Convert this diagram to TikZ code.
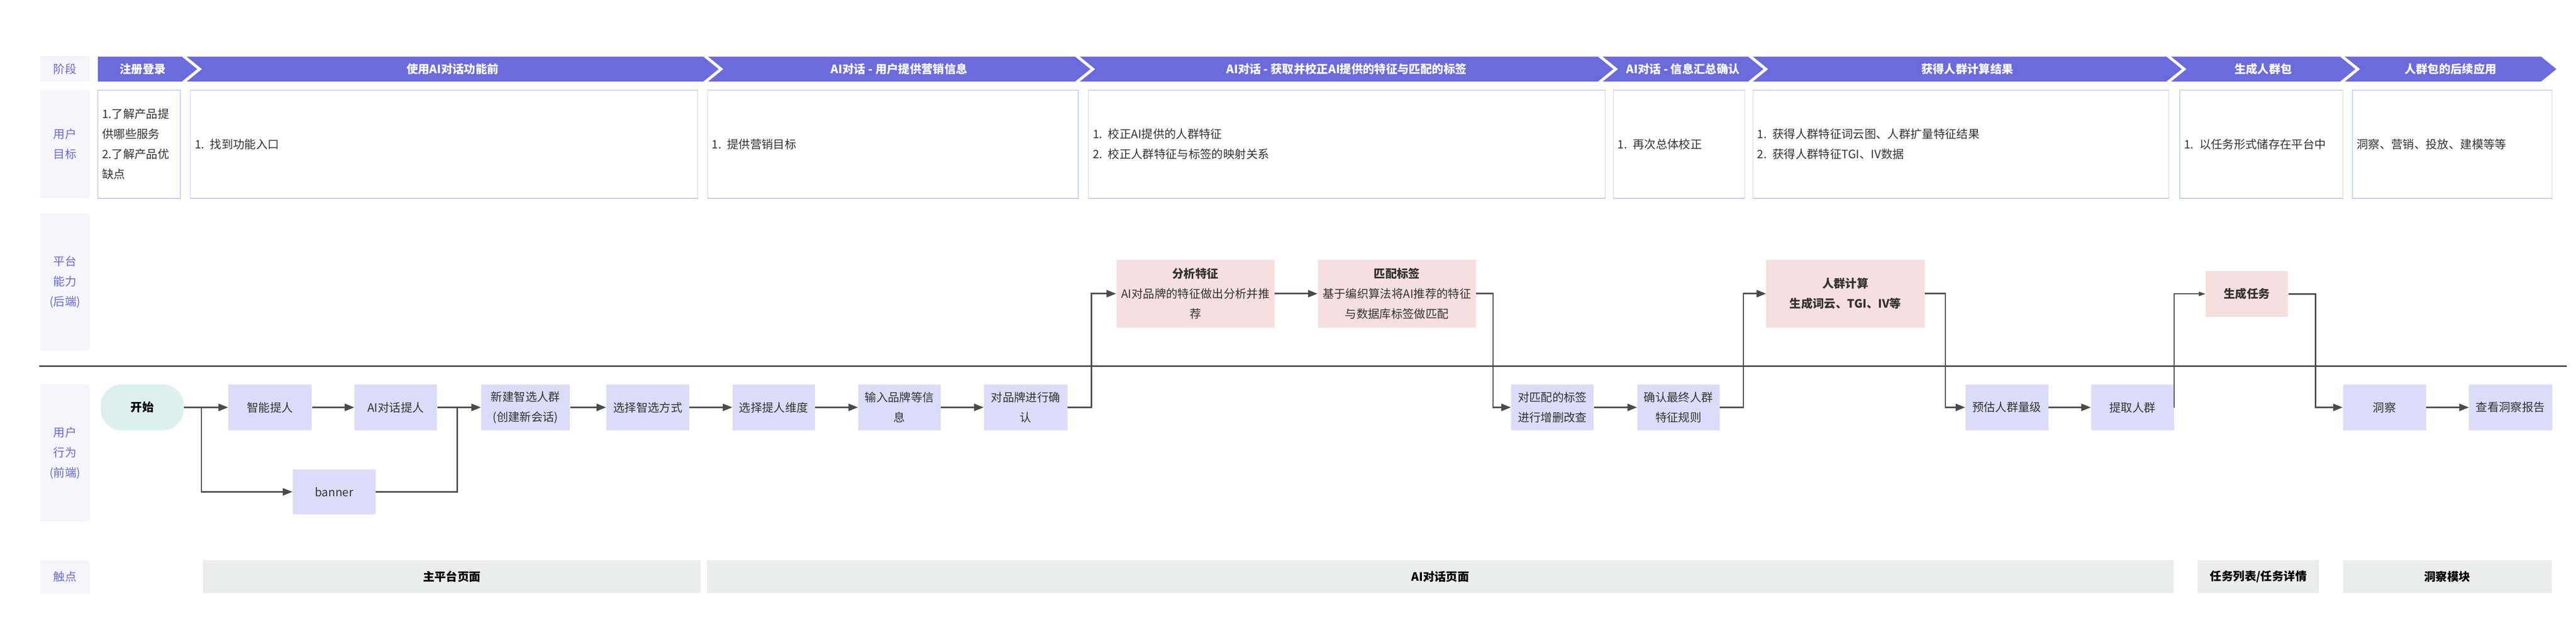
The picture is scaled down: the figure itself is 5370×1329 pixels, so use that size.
\documentclass[tikz,border=0pt]{standalone}
\usepackage{fontspec}
\setmainfont{Noto Sans CJK SC}
\usetikzlibrary{arrows.meta}
\definecolor{stagec}{HTML}{6B6BDD}
\definecolor{labfill}{HTML}{F5F5FB}
\definecolor{labtext}{HTML}{6A6AD8}
\definecolor{goalborder}{HTML}{CCD2F4}
\definecolor{goalbottom}{HTML}{C0C8F1}
\definecolor{behfill}{HTML}{DCDCF8}
\definecolor{startfill}{HTML}{DDF0EE}
\definecolor{platfill}{HTML}{F7DFDF}
\definecolor{touchfill}{HTML}{EBECEC}
\definecolor{linec}{HTML}{4A4A4A}
\definecolor{txtc}{HTML}{333333}
\newcommand{\mybox}[7]{\node[#1, minimum width={(#5-#3)*0.5pt}, minimum height={(#6-#4)*0.5pt}] (#2) at ({(#3+#5)/2},{(#4+#6)/2}) {#7};}
\newcommand{\goalbox}[4]{\node[goal, minimum width={(#3-#2)*0.5pt}, minimum height=112.5pt, text width={(#3-#2-18)*0.5pt}] (#1) at ({(#2+#3)/2},300.5) {#4};
 \draw[draw=goalbottom, line width=1pt] (#1.south west) -- (#1.south east);}
\newcommand{\stagearrow}[5]{\fill[stagec] (#2,118) -- ({#3-32},118) -- (#3,144) -- ({#3-32},170) -- (#2,170) -- ({#2+32*#5},144) -- cycle;
 \node[stagetext] (#1) at ({(#2+#3)/2-10+10*#5},144) {#4};}
\begin{document}
\begin{tikzpicture}[x=0.5pt,y=-0.5pt, font=\fontsize{12pt}{21pt}\selectfont,
  lab/.style={fill=labfill, text=labtext, align=center, inner sep=0pt},
  goal/.style={draw=goalborder, line width=0.75pt, fill=white, text=txtc, align=left, inner xsep=0pt, inner ysep=0pt},
  stagetext/.style={text=white, inner sep=0pt, font=\fontsize{12pt}{21pt}\selectfont\bfseries},
  beh/.style={fill=behfill, text=txtc, align=center, inner sep=0pt},
  startnode/.style={fill=startfill, text=black, rounded corners=22pt, inner sep=0pt, font=\fontsize{12pt}{21pt}\selectfont\bfseries},
  plat/.style={fill=platfill, text=txtc, align=center, inner sep=0pt},
  touch/.style={fill=touchfill, text=black, inner sep=0pt, font=\fontsize{12pt}{21pt}\selectfont\bfseries},
  conn/.style={draw=linec, line width=1.5pt, -{Triangle[length=10pt,width=7.5pt]}},
  connsmall/.style={draw=linec, line width=1.1pt, -{Triangle[length=7pt,width=4.5pt]}},
  plain/.style={draw=linec, line width=1.5pt}]
\useasboundingbox (0,0) rectangle (5370,1329);
\fill[white] (0,0) rectangle (5370,1329);

% label column
\mybox{lab}{l1}{84}{117}{187}{170}{阶段}
\mybox{lab}{l2}{84}{188}{187}{413}{用户\\目标}
\mybox{lab}{l3}{84}{445}{187}{730}{平台\\能力\\(后端)}
\mybox{lab}{l4}{84}{801}{187}{1087}{用户\\行为\\(前端)}
\mybox{lab}{l5}{84}{1167}{187}{1237}{触点}

% stages
\stagearrow{s1}{204}{411}{注册登录}{0}
\stagearrow{s2}{389}{1498}{使用AI对话功能前}{1}
\stagearrow{s3}{1476}{2273}{AI对话 - 用户提供营销信息}{1}
\stagearrow{s4}{2251}{3363}{AI对话 - 获取并校正AI提供的特征与匹配的标签}{1}
\stagearrow{s5}{3341}{3676}{AI对话 - 信息汇总确认}{1}
\stagearrow{s6}{3654}{4548}{获得人群计算结果}{1}
\stagearrow{s7}{4526}{4910}{生成人群包}{1}
\stagearrow{s8}{4888}{5329}{人群包的后续应用}{1}

% goals
\goalbox{g1}{204}{376}{1.了解产品提\\供哪些服务\\2.了解产品优\\缺点}
\goalbox{g2}{397}{1455}{1. 找到功能入口}
\goalbox{g3}{1475}{2248}{1. 提供营销目标}
\goalbox{g4}{2269}{3346}{1. 校正AI提供的人群特征\\2. 校正人群特征与标签的映射关系}
\goalbox{g5}{3363}{3637}{1. 再次总体校正}
\goalbox{g6}{3654}{4521}{1. 获得人群特征词云图、人群扩量特征结果\\2. 获得人群特征TGI、IV数据}
\goalbox{g7}{4544}{4884}{1. 以任务形式储存在平台中}
\goalbox{g8}{4904}{5320}{洞察、营销、投放、建模等等}

% divider
\coordinate (dl) at (82,763);
\coordinate (dr) at (5351,763);
\draw[plain] (dl) -- (dr);

% platform nodes
\mybox{plat}{p1}{2327}{541}{2657}{683}{{\bfseries 分析特征}\\AI对品牌的特征做出分析并推\\荐}
\mybox{plat}{p2}{2747}{541}{3077}{683}{{\bfseries 匹配标签}\\基于编织算法将AI推荐的特征\\与数据库标签做匹配}
\mybox{plat}{p3}{3682}{541}{4012}{683}{\bfseries 人群计算\\\bfseries 生成词云、TGI、IV等}
\mybox{plat}{p4}{4598}{565}{4770}{660}{\bfseries 生成任务}

% behaviour nodes
\mybox{startnode}{start}{210}{801}{383}{897}{开始}
\mybox{beh}{n1}{476}{801}{650}{897}{智能提人}
\mybox{beh}{n2}{739}{801}{911}{897}{AI对话提人}
\mybox{beh}{n3}{1003}{801}{1188}{897}{新建智选人群\\(创建新会话)}
\mybox{beh}{banner}{610}{978}{783}{1072}{banner}
\mybox{beh}{n4}{1264}{801}{1437}{897}{选择智选方式}
\mybox{beh}{n5}{1527}{801}{1699}{897}{选择提人维度}
\mybox{beh}{n6}{1789}{801}{1961}{897}{输入品牌等信\\息}
\mybox{beh}{n7}{2051}{801}{2225}{897}{对品牌进行确\\认}
\mybox{beh}{n8}{3150}{801}{3322}{897}{对匹配的标签\\进行增删改查}
\mybox{beh}{n9}{3413}{801}{3585}{897}{确认最终人群\\特征规则}
\mybox{beh}{n10}{4097}{801}{4270}{897}{预估人群量级}
\mybox{beh}{n11}{4359}{801}{4532}{897}{提取人群}
\mybox{beh}{n12}{4884}{801}{5057}{897}{洞察}
\mybox{beh}{n13}{5147}{801}{5320}{897}{查看洞察报告}

% touchpoints
\mybox{touch}{t1}{423}{1167}{1461}{1236}{主平台页面}
\mybox{touch}{t2}{1474}{1167}{4531}{1236}{AI对话页面}
\mybox{touch}{t3}{4582}{1167}{4834}{1236}{任务列表/任务详情}
\mybox{touch}{t4}{4884}{1167}{5319}{1236}{洞察模块}

% connectors
\coordinate (b1) at (420,849);
\coordinate (b2) at (953,849);
\draw[conn] (start.east) -- (n1.west);
\draw[conn] (b1) |- (banner.west);
\draw[conn] (n1.east) -- (n2.west);
\draw[conn] (n2.east) -- (n3.west);
\draw[plain] (banner.east) -| (b2);
\draw[conn] (n3.east) -- (n4.west);
\draw[conn] (n4.east) -- (n5.west);
\draw[conn] (n5.east) -- (n6.west);
\draw[conn] (n6.east) -- (n7.west);
\draw[conn] (n7.east) -- ++(50,0) |- (p1.west);
\draw[conn] (p1.east) -- (p2.west);
\draw[conn] (p2.east) -- ++(35,0) |- (n8.west);
\draw[conn] (n8.east) -- (n9.west);
\draw[conn] (n9.east) -- ++(49,0) |- (p3.west);
\draw[conn] (p3.east) -- ++(43,0) |- (n10.west);
\draw[conn] (n10.east) -- (n11.west);
\draw[connsmall] (n11.east) |- (p4.west);
\draw[conn] (p4.east) -- ++(57,0) |- (n12.west);
\draw[conn] (n12.east) -- (n13.west);
\end{tikzpicture}
\end{document}
